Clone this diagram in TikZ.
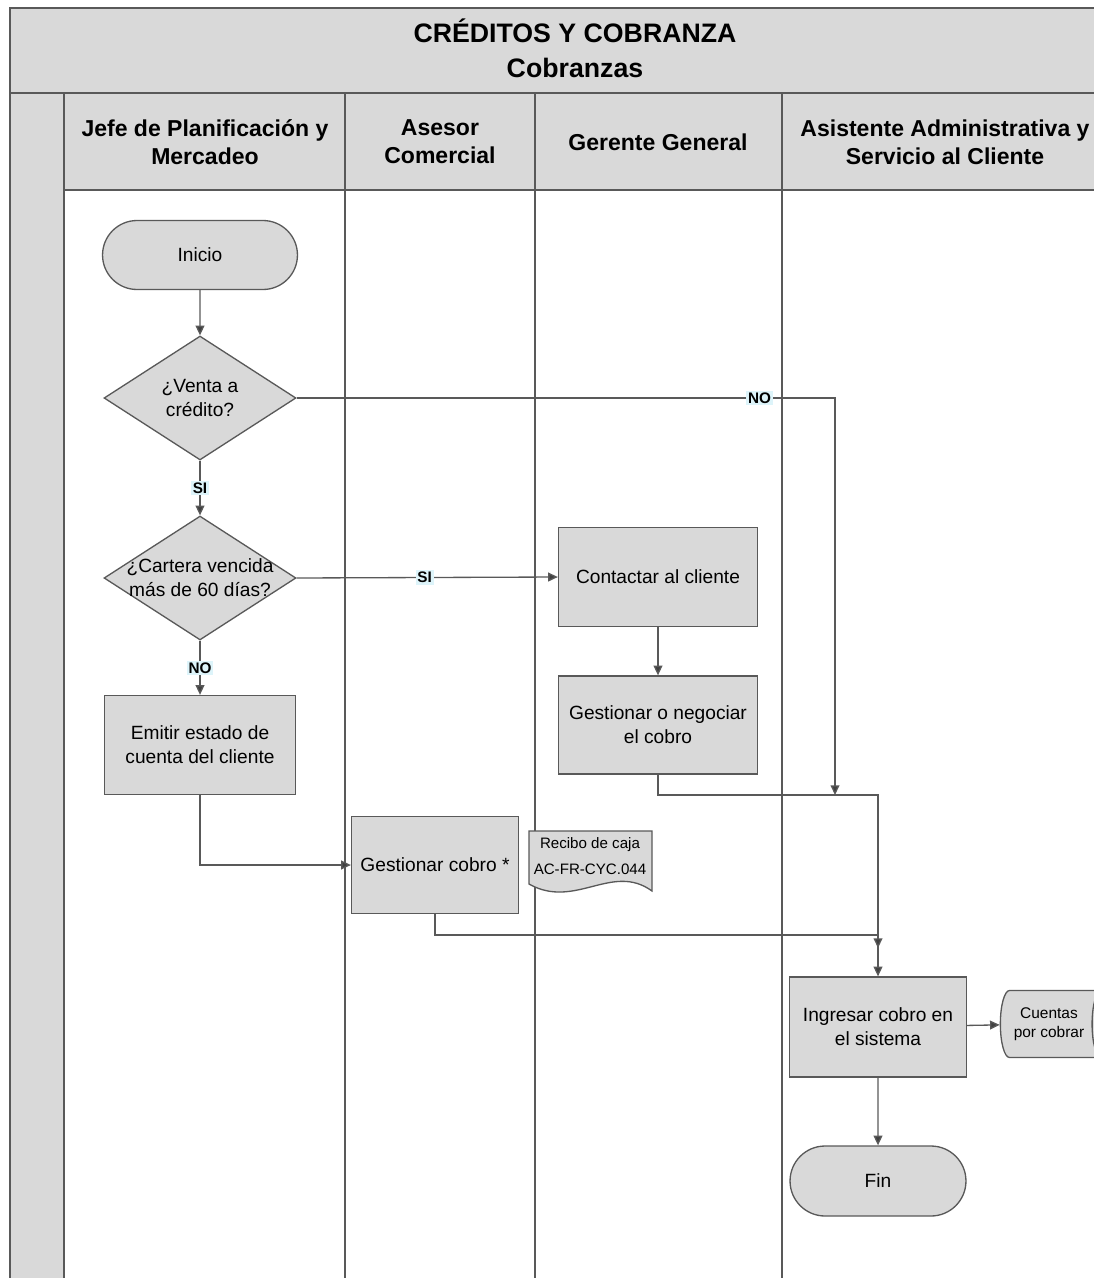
\documentclass[tikz,border=0pt]{standalone}
\usepackage{fontspec}
\setmainfont{Liberation Sans}
\usetikzlibrary{shapes.geometric,shapes.misc,arrows.meta}
\definecolor{boxgray}{HTML}{D9D9D9}
\definecolor{linegray}{HTML}{595959}
\definecolor{tipgray}{HTML}{404040}
\definecolor{tagblue}{HTML}{DDF4FA}
\begin{document}
\begin{tikzpicture}[x=0.02cm,y=-0.02cm,line width=0.75pt,
  lane/.style={draw=linegray,line width=1.1pt,fill=boxgray},
  laneline/.style={draw=linegray,line width=1.1pt},
  titletext/.style={align=center,font=\bfseries\fontsize{15.2}{19.8}\selectfont},
  headtext/.style={align=center,font=\bfseries\fontsize{13.1}{15.9}\selectfont},
  procbox/.style={rectangle,draw=linegray,fill=boxgray,align=center,inner sep=2pt,
    font=\fontsize{10.9}{13.6}\selectfont},
  startstop/.style={rounded rectangle,draw=linegray,fill=boxgray,inner sep=2pt,
    font=\fontsize{10.9}{13.6}\selectfont},
  decision/.style={diamond,draw=linegray,fill=boxgray,inner sep=0pt,
    minimum width=3.84cm,minimum height=2.48cm},
  dtext/.style={align=center,font=\fontsize{10.9}{13.6}\selectfont},
  docnote/.style={draw=linegray,fill=boxgray},
  doctext/.style={align=center,font=\fontsize{8.6}{14.7}\selectfont},
  store/.style={cylinder,draw=linegray,fill=boxgray,aspect=0.5,align=center,
    minimum width=1.34cm,minimum height=2.2cm,inner sep=1pt,
    font=\fontsize{8.8}{10.8}\selectfont},
  flow/.style={draw=linegray,-{Triangle[length=5.5pt,width=5pt,fill=tipgray]}},
  tag/.style={fill=tagblue,inner sep=1pt,font=\bfseries\fontsize{8.7}{10}\selectfont}]
 \useasboundingbox (0,0) rectangle (1094,1278);
 \clip (0,0) rectangle (1094,1278);
 % title and lanes
 \path[lane] (10,8) rectangle (1130,93);
 \path[lane] (10,93) rectangle (64,1300);
 \foreach \xa/\xb in {64/345,345/535,535/782,782/1130} {
   \path[lane] (\xa,93) rectangle (\xb,190);
   \path[laneline] (\xa,190) rectangle (\xb,1300);
 }
 \node[titletext] (ttl) at (575,48) {CRÉDITOS Y COBRANZA\\Cobranzas};
 \node[headtext] (h1) at (205,142) {Jefe de Planificación y\\Mercadeo};
 \node[headtext] (h2) at (440,142) {Asesor\\Comercial};
 \node[headtext] (h3) at (658,142) {Gerente General};
 \node[headtext] (h4) at (945,142) {Asistente Administrativa y\\Servicio al Cliente};
 % steps
 \node[startstop,minimum width=4.04cm,minimum height=1.38cm] (ini) at (200,255) {Inicio};
 \node[decision,label={[dtext]center:{¿Venta a\\crédito?}}] (d1) at (200,398) {};
 \node[decision,label={[dtext]center:{¿Cartera vencida\\más de 60 días?}}] (d2) at (200,578) {};
 \node[procbox,minimum width=3.82cm,minimum height=1.98cm] (emi) at (200,745) {Emitir estado de\\cuenta del cliente};
 \node[procbox,minimum width=3.98cm,minimum height=1.98cm] (con) at (658,577) {Contactar al cliente};
 \node[procbox,minimum width=3.98cm,minimum height=1.96cm] (neg) at (658,725) {Gestionar o negociar\\el cobro};
 \node[procbox,minimum width=3.34cm,minimum height=1.94cm] (gco) at (435,865) {Gestionar cobro *};
 \draw[docnote] (529,831) -- (652,831) -- (652,891) .. controls (612,862) and (575,910) .. (529,884) -- cycle;
 \node[doctext] (rec) at (590,856) {Recibo de caja\\AC-FR-CYC.044};
 \node[procbox,minimum width=3.54cm,minimum height=2cm] (ing) at (878,1027) {Ingresar cobro en\\el sistema};
 \node[store] (cxc) at (1049,1024) {Cuentas\\por cobrar};
 \node[startstop,minimum width=3.66cm,minimum height=1.4cm] (fin) at (878,1181) {Fin};
 \coordinate (jno) at (835,795);
 \coordinate (jneg) at (878,795);
 \coordinate (jgc) at (878,935);
 \coordinate (tgc) at (878,948);
 % connectors
 \draw[flow] (ini) -- (d1);
 \draw[flow] (d1) -- node[tag]{SI} (d2);
 \draw[flow] (d1.east) -| node[tag,pos=0.43]{NO} (jno);
 \draw[flow] (d2.east) -- node[tag,pos=0.49]{SI} (con.west);
 \draw[flow] (d2) -- node[tag]{NO} (emi);
 \draw[flow] (con) -- (neg);
 \draw[flow] (neg.south) |- (jneg) -- (ing.north);
 \draw[flow] (emi.south) |- (gco.west);
 \draw[flow] (gco.south) |- (jgc) -- (tgc);
 \draw[flow] (ing) -- (cxc);
 \draw[flow] (ing) -- (fin);
\end{tikzpicture}
\end{document}
